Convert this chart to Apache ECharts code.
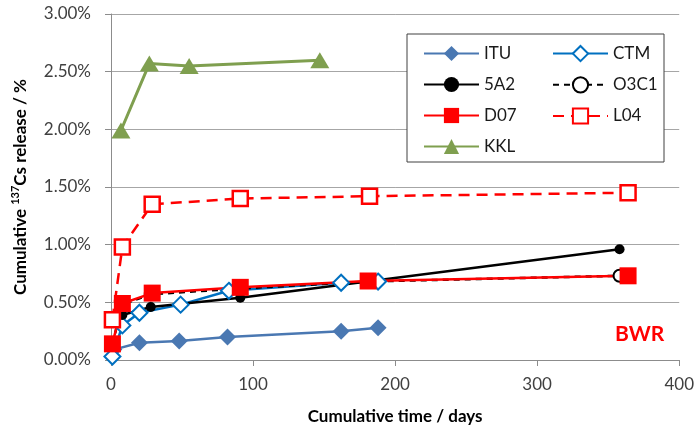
<!DOCTYPE html>
<html>
<head>
<meta charset="utf-8">
<script src="https://cdn.jsdelivr.net/npm/echarts@6/dist/echarts.min.js"></script>
<style>
  html, body { margin: 0; padding: 0; background: #fff; }
  #chart { width: 697px; height: 437px; }
</style>
</head>
<body>
<div id="chart"></div>
<script>
// Cumulative 137Cs release (%) against cumulative leaching time (days)
const xTicks = [0, 100, 200, 300, 400];
const yTicks = [0, 0.5, 1.0, 1.5, 2.0, 2.5, 3.0];

const ituDays  = [2, 20, 48, 82, 162, 188];
const ituPct   = [0.09, 0.15, 0.165, 0.20, 0.25, 0.28];

const ctmDays  = [1, 8, 20, 49, 83, 162, 188];
const ctmPct   = [0.03, 0.30, 0.41, 0.48, 0.60, 0.67, 0.68];

const a52Days  = [8, 28, 91, 358];
const a52Pct   = [0.39, 0.46, 0.54, 0.96];

const o3c1Days = [1, 8, 28, 91, 181, 358];
const o3c1Pct  = [0.14, 0.48, 0.57, 0.62, 0.68, 0.73];

const d07Days  = [1, 8, 29, 91, 181, 364];
const d07Pct   = [0.14, 0.49, 0.58, 0.63, 0.685, 0.73];

const l04Days  = [1, 8, 29, 91, 182, 364];
const l04Pct   = [0.35, 0.98, 1.35, 1.40, 1.42, 1.45];

const kklDays  = [7, 27, 55, 147];
const kklPct   = [1.99, 2.57, 2.55, 2.60];

const pair = (xs, ys) => xs.map((x, i) => [x, ys[i]]);

const FONT = 'Lato, "Open Sans", sans-serif';

const base = { type: 'line', showAllSymbol: true, animation: false };

const series = [
  Object.assign({}, base, {
    name: 'ITU', data: pair(ituDays, ituPct),
    symbol: 'diamond', symbolSize: 17,
    lineStyle: { color: '#4A78B2', width: 2.5 },
    itemStyle: { color: '#4A78B2' }
  }),
  Object.assign({}, base, {
    name: 'CTM', data: pair(ctmDays, ctmPct),
    symbol: 'diamond', symbolSize: 16,
    lineStyle: { color: '#0070C0', width: 2.5 },
    itemStyle: { color: '#ffffff', borderColor: '#0070C0', borderWidth: 2 }
  }),
  Object.assign({}, base, {
    name: '5A2', data: pair(a52Days, a52Pct),
    symbol: 'circle', symbolSize: 10,
    lineStyle: { color: '#000000', width: 2.5 },
    itemStyle: { color: '#000000' }
  }),
  Object.assign({}, base, {
    name: 'O3C1', data: pair(o3c1Days, o3c1Pct),
    symbol: 'circle', symbolSize: 12,
    lineStyle: { color: '#000000', width: 2.5, type: [6, 5] },
    itemStyle: { color: '#ffffff', borderColor: '#000000', borderWidth: 2 }
  }),
  Object.assign({}, base, {
    name: 'D07', data: pair(d07Days, d07Pct),
    symbol: 'rect', symbolSize: 17,
    lineStyle: { color: '#FF0000', width: 2.5 },
    itemStyle: { color: '#FF0000' }
  }),
  Object.assign({}, base, {
    name: 'L04', data: pair(l04Days, l04Pct),
    symbol: 'rect', symbolSize: 15,
    lineStyle: { color: '#FF0000', width: 2.5, type: [11, 7] },
    itemStyle: { color: '#ffffff', borderColor: '#FF0000', borderWidth: 2.5 }
  }),
  Object.assign({}, base, {
    name: 'KKL', data: pair(kklDays, kklPct),
    symbol: 'triangle', symbolSize: [19, 16],
    lineStyle: { color: '#7F9F4F', width: 3 },
    itemStyle: { color: '#7F9F4F' }
  })
];

const legendCommon = {
  orient: 'vertical',
  itemWidth: 55,
  itemHeight: 19,
  itemGap: 14,
  z: 10,
  textStyle: { fontFamily: FONT, fontSize: 17, color: '#1a1a1a' }
};

const chart = echarts.init(document.getElementById('chart'), null, { renderer: 'canvas' });
chart.setOption({
  backgroundColor: '#ffffff',
  animation: false,
  grid: { left: 111, right: 15, top: 14, bottom: 77, containLabel: false },
  xAxis: {
    type: 'value',
    min: xTicks[0], max: xTicks[xTicks.length - 1], interval: 100,
    name: 'Cumulative time / days',
    nameLocation: 'middle', nameGap: 48,
    nameTextStyle: { fontFamily: FONT, fontSize: 17, fontWeight: 'bold', color: '#000' },
    axisLine: { lineStyle: { color: '#8C8C8C', width: 1 } },
    axisTick: { show: true, inside: false, length: 6, lineStyle: { color: '#8C8C8C' } },
    axisLabel: { margin: 16, fontFamily: FONT, fontSize: 17, color: '#404040' },
    splitLine: { show: false }
  },
  yAxis: {
    type: 'value',
    min: yTicks[0], max: yTicks[yTicks.length - 1], interval: 0.5,
    name: 'Cumulative {sup|137}Cs release / %',
    nameLocation: 'middle', nameGap: 80, nameRotate: 90,
    nameTextStyle: {
      fontFamily: FONT, fontSize: 17, fontWeight: 'bold', color: '#000',
      rich: {
        sup: { fontFamily: FONT, fontSize: 11, fontWeight: 'bold', color: '#000', padding: [0, 0, 10, 0] }
      }
    },
    axisLine: { show: true, lineStyle: { color: '#8C8C8C', width: 1 } },
    axisTick: { show: true, inside: false, length: 6, lineStyle: { color: '#8C8C8C' } },
    axisLabel: {
      margin: 20, fontFamily: FONT, fontSize: 17, color: '#404040',
      formatter: v => v.toFixed(2) + '%'
    },
    splitLine: { show: true, lineStyle: { color: '#A6A6A6', width: 1 } }
  },
  legend: [
    Object.assign({}, legendCommon, { data: ['ITU', '5A2', 'D07', 'KKL'], left: 418, top: 40 }),
    Object.assign({}, legendCommon, { data: ['CTM', 'O3C1', 'L04'], left: 547, top: 40 })
  ],
  graphic: [
    {
      type: 'rect', z: 5,
      shape: { x: 407, y: 34, width: 257, height: 128 },
      style: { fill: '#ffffff', stroke: '#404040', lineWidth: 1 }
    },
    {
      type: 'text', z: 5, left: 615, top: 324,
      style: { text: 'BWR', fill: '#FF0000', font: 'bold 21px ' + FONT }
    }
  ],
  series: series
});
</script>
</body>
</html>
